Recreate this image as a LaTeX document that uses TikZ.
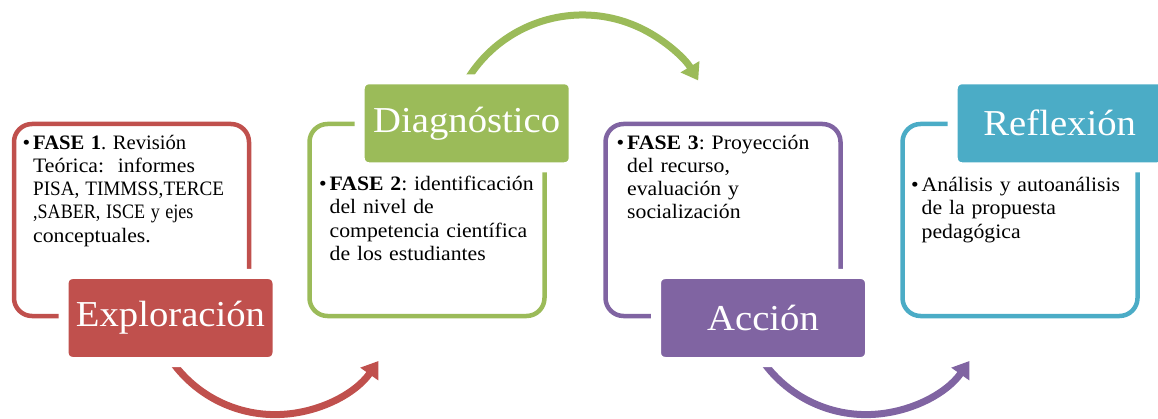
\documentclass[tikz,border=0pt]{standalone}
\usepackage{graphicx}
\usepackage{fontspec}
\setmainfont{Liberation Serif}[FakeStretch=1.06]
\usetikzlibrary{arrows.meta}
\definecolor{cred}{HTML}{C0504D}
\definecolor{cgreen}{HTML}{9BBB59}
\definecolor{cpurple}{HTML}{8064A2}
\definecolor{cteal}{HTML}{4BACC6}
\newcommand{\bul}{\llap{\makebox[10.5pt][l]{•}}}
\newcommand{\narrow}[2]{\scalebox{#1}[1]{#2}}
\tikzset{
  outlinebox/.style={draw=#1, line width=4.5pt, rounded corners=18pt, minimum width=235pt, minimum height=192pt, inner sep=0pt},
  labelbox/.style={fill=#1, draw=white, line width=10pt, rounded corners=9pt, minimum width=214pt, minimum height=88pt, text=white, font=\fontsize{36.5}{42}\selectfont, inner sep=0pt},
  cyclearrow/.style={draw=#1, line width=7pt, -{Triangle[length=16pt,width=21pt]}},
  bodytext/.style={anchor=base west, text width=240pt, align=left, inner sep=0pt, font=\fontsize{20.5}{23.2}\selectfont\frenchspacing}
}
\begin{document}
\begin{tikzpicture}[x=1pt,y=-1pt]
\useasboundingbox (0,0) rectangle (1158,419);
\clip (0,0) rectangle (1158,419);
% arcs
\coordinate (r0) at (165.4,351.3);
\coordinate (g0) at (462.2,88.7);
\coordinate (p0) at (756.4,351.3);
\draw[cyclearrow=cred] (r0) arc[start angle=210, end angle=324.8, radius=126.6pt];
\draw[cyclearrow=cgreen] (g0) arc[start angle=153, end angle=31, radius=135pt];
\draw[cyclearrow=cpurple] (p0) arc[start angle=210, end angle=324.8, radius=126.6pt];
% outline boxes
\node[outlinebox=cred] (b1) at (131.5,220) {};
\node[outlinebox=cgreen] (b2) at (427,220) {};
\node[outlinebox=cpurple] (b3) at (723,220) {};
\node[outlinebox=cteal] (b4) at (1020,220) {};
% label boxes
\node[labelbox=cred] (expl) at (170.5,318) {Exploración};
\node[labelbox=cgreen] (diag) at (466.7,123.3) {Diagnóstico};
\node[labelbox=cpurple] (acc) at (763,318) {Acción};
\node[labelbox=cteal] (refl) at (1059.7,123.3) {Reflexión};
% texts
\node[bodytext] (t1) at (33,149.3) {\bul\narrow{0.95}{\textbf{FASE 1}. Revisión}\\Teórica:~ informes\\\narrow{0.88}{PISA, TIMMSS,TERCE}\\\narrow{0.83}{,SABER, ISCE y ejes}\\conceptuales.};
\node[bodytext] (t2) at (329.5,190.7) {\bul\textbf{FASE 2}: identificación\\del nivel de\\competencia científica\\de los estudiantes};
\node[bodytext] (t3) at (627,149.3) {\bul\textbf{FASE 3}: Proyección\\del recurso,\\evaluación y\\socialización};
\node[bodytext] (t4) at (921.5,191.7) {\bul Análisis y autoanálisis\\de la propuesta\\pedagógica};
\end{tikzpicture}
\end{document}
